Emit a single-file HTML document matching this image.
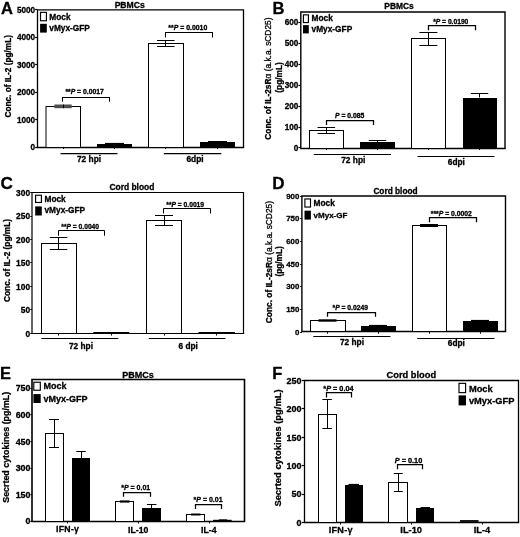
<!DOCTYPE html>
<html><head><meta charset="utf-8"><title>Figure</title>
<style>
html,body{margin:0;padding:0;background:#fff;}
svg{display:block;font-family:"Liberation Sans",sans-serif;fill:#000;}
text{stroke:#000;stroke-width:0.3px;stroke-linejoin:round;}
</style></head><body>
<svg width="520" height="537" viewBox="0 0 520 537">
<rect x="0" y="0" width="520" height="537" fill="#fff" stroke="none"/>
<text x="0.9" y="13.6" font-size="16.5" text-anchor="start" font-weight="bold" >A</text>
<text x="129.7" y="8.3" font-size="8.6" text-anchor="middle" font-weight="bold" >PBMCs</text>
<polyline points="37.5,147.5 37.5,9.9 243.5,9.9 243.5,147.5" fill="none" stroke="#000" stroke-width="1.3"/>
<line x1="36.85" y1="147.5" x2="244.15" y2="147.5" stroke="#000" stroke-width="1.3"/>
<line x1="35.1" y1="9.5" x2="37.5" y2="9.5" stroke="#000" stroke-width="1.2"/>
<text x="35.1" y="12.94" font-size="8.2" text-anchor="end" font-weight="bold" >5000</text>
<line x1="35.1" y1="37.5" x2="37.5" y2="37.5" stroke="#000" stroke-width="1.2"/>
<text x="35.1" y="40.38" font-size="8.2" text-anchor="end" font-weight="bold" >4000</text>
<line x1="35.1" y1="64.5" x2="37.5" y2="64.5" stroke="#000" stroke-width="1.2"/>
<text x="35.1" y="67.82" font-size="8.2" text-anchor="end" font-weight="bold" >3000</text>
<line x1="35.1" y1="92.5" x2="37.5" y2="92.5" stroke="#000" stroke-width="1.2"/>
<text x="35.1" y="95.26" font-size="8.2" text-anchor="end" font-weight="bold" >2000</text>
<line x1="35.1" y1="119.5" x2="37.5" y2="119.5" stroke="#000" stroke-width="1.2"/>
<text x="35.1" y="122.7" font-size="8.2" text-anchor="end" font-weight="bold" >1000</text>
<line x1="35.1" y1="147.5" x2="37.5" y2="147.5" stroke="#000" stroke-width="1.2"/>
<text x="35.1" y="150.14" font-size="8.2" text-anchor="end" font-weight="bold" >0</text>
<text transform="translate(10.6,76.3) rotate(-90)" font-size="8.25" text-anchor="middle" font-weight="bold">Conc. of IL-2 (pg/mL)</text>
<rect x="40.5" y="12.35" width="5.9" height="8.4" fill="#fff" stroke="#000" stroke-width="1.15"/>
<rect x="40.1" y="23.8" width="6.7" height="8.8" fill="#000" stroke="none"/>
<text x="49.3" y="19.7" font-size="8.3" text-anchor="start" font-weight="bold" >Mock</text>
<text x="49.3" y="30.9" font-size="8.3" text-anchor="start" font-weight="bold" >vMyx-GFP</text>
<rect x="46.0" y="106.5" width="34.5" height="41.0" fill="#fff" stroke="#000" stroke-width="1.0"/>
<rect x="54.4" y="104.5" width="17.3" height="3.7" fill="#4d4d4d" stroke="none"/>
<line x1="63.5" y1="104.5" x2="63.5" y2="108.2" stroke="#000" stroke-width="1.0"/>
<rect x="97.5" y="144.5" width="34.0" height="3.0" fill="#000" stroke="#000" stroke-width="1.0"/>
<line x1="105" y1="143.5" x2="124" y2="143.5" stroke="#000" stroke-width="1.2"/>
<rect x="148.5" y="43.5" width="35.0" height="104.0" fill="#fff" stroke="#000" stroke-width="1.0"/>
<line x1="165.5" y1="40.8" x2="165.5" y2="46.8" stroke="#000" stroke-width="1.0"/>
<line x1="157.05" y1="40.5" x2="174.55" y2="40.5" stroke="#000" stroke-width="1.0"/>
<line x1="157.05" y1="46.5" x2="174.55" y2="46.5" stroke="#000" stroke-width="1.0"/>
<rect x="200.5" y="142.5" width="34.0" height="5.0" fill="#000" stroke="#000" stroke-width="1.0"/>
<line x1="208" y1="141.5" x2="227" y2="141.5" stroke="#000" stroke-width="1.0"/>
<polyline points="62.5,101.7 62.5,97.5 109.5,97.5 109.5,101.7" fill="none" stroke="#000" stroke-width="1.05"/>
<text x="65.4" y="94.2" font-size="6.8" text-anchor="start" font-weight="bold">**<tspan font-style="italic">P</tspan> = 0.0017</text>
<polyline points="165.5,37.5 165.5,32.5 212.5,32.5 212.5,37.5" fill="none" stroke="#000" stroke-width="1.05"/>
<text x="168.3" y="30.2" font-size="6.9" text-anchor="start" font-weight="bold">**<tspan font-style="italic">P</tspan> = 0.0010</text>
<line x1="63.5" y1="147" x2="63.5" y2="149" stroke="#000" stroke-width="0.9"/>
<line x1="114.5" y1="147" x2="114.5" y2="149" stroke="#000" stroke-width="0.9"/>
<line x1="165.5" y1="147" x2="165.5" y2="149" stroke="#000" stroke-width="0.9"/>
<line x1="217.5" y1="147" x2="217.5" y2="149" stroke="#000" stroke-width="0.9"/>
<line x1="60.5" y1="153.5" x2="117.5" y2="153.5" stroke="#000" stroke-width="1.25"/>
<line x1="163.8" y1="153.5" x2="221.3" y2="153.5" stroke="#000" stroke-width="1.25"/>
<text x="89" y="161.9" font-size="8.4" text-anchor="middle" font-weight="bold" >72 hpi</text>
<text x="195" y="161.8" font-size="8.4" text-anchor="middle" font-weight="bold" >6dpi</text>
<text x="272.6" y="14.1" font-size="16.5" text-anchor="start" font-weight="bold" >B</text>
<text x="399" y="9.4" font-size="8.4" text-anchor="middle" font-weight="bold" >PBMCs</text>
<polyline points="300.8,148.5 300.8,12.0 505.0,12.0 505.0,148.5" fill="none" stroke="#000" stroke-width="1.4"/>
<line x1="300.15000000000003" y1="148.5" x2="505.65" y2="148.5" stroke="#000" stroke-width="1.4"/>
<line x1="298.40000000000003" y1="22.5" x2="300.8" y2="22.5" stroke="#000" stroke-width="1.2"/>
<text x="298.3" y="25.49" font-size="8.2" text-anchor="end" font-weight="bold" >600</text>
<line x1="298.40000000000003" y1="43.5" x2="300.8" y2="43.5" stroke="#000" stroke-width="1.2"/>
<text x="298.3" y="46.39" font-size="8.2" text-anchor="end" font-weight="bold" >500</text>
<line x1="298.40000000000003" y1="64.5" x2="300.8" y2="64.5" stroke="#000" stroke-width="1.2"/>
<text x="298.3" y="67.29" font-size="8.2" text-anchor="end" font-weight="bold" >400</text>
<line x1="298.40000000000003" y1="85.5" x2="300.8" y2="85.5" stroke="#000" stroke-width="1.2"/>
<text x="298.3" y="88.19" font-size="8.2" text-anchor="end" font-weight="bold" >300</text>
<line x1="298.40000000000003" y1="106.5" x2="300.8" y2="106.5" stroke="#000" stroke-width="1.2"/>
<text x="298.3" y="109.09" font-size="8.2" text-anchor="end" font-weight="bold" >200</text>
<line x1="298.40000000000003" y1="127.5" x2="300.8" y2="127.5" stroke="#000" stroke-width="1.2"/>
<text x="298.3" y="129.99" font-size="8.2" text-anchor="end" font-weight="bold" >100</text>
<line x1="298.40000000000003" y1="147.5" x2="300.8" y2="147.5" stroke="#000" stroke-width="1.2"/>
<text x="298.3" y="150.89" font-size="8.2" text-anchor="end" font-weight="bold" >0</text>
<text transform="translate(271.35,78.6) rotate(-90)" font-size="8.35" text-anchor="middle" font-weight="bold">Conc. of IL-2sR<tspan font-weight="normal" stroke-width="0.3">α (a.k.a. sCD25)</tspan></text>
<text transform="translate(281.7,77.5) rotate(-90)" font-size="8.3" text-anchor="middle" font-weight="bold">(pg/mL)</text>
<rect x="303.4" y="14.85" width="5.0" height="7.7" fill="#fff" stroke="#000" stroke-width="1.15"/>
<rect x="303.0" y="25.1" width="5.8" height="8.3" fill="#000" stroke="none"/>
<text x="311.6" y="21.3" font-size="8.3" text-anchor="start" font-weight="bold" >Mock</text>
<text x="311.6" y="32.3" font-size="8.3" text-anchor="start" font-weight="bold" >vMyx-GFP</text>
<rect x="309.5" y="130.5" width="34.0" height="18.0" fill="#fff" stroke="#000" stroke-width="1.0"/>
<line x1="326.5" y1="127" x2="326.5" y2="133.3" stroke="#000" stroke-width="1.0"/>
<line x1="317.55" y1="127.5" x2="335.05" y2="127.5" stroke="#000" stroke-width="1.0"/>
<line x1="317.55" y1="133.5" x2="335.05" y2="133.5" stroke="#000" stroke-width="1.0"/>
<rect x="360.5" y="142.5" width="34.0" height="6.0" fill="#000" stroke="#000" stroke-width="1.0"/>
<line x1="377.5" y1="140.3" x2="377.5" y2="142" stroke="#000" stroke-width="1.0"/>
<line x1="368.75" y1="140.5" x2="386.25" y2="140.5" stroke="#000" stroke-width="1.0"/>
<rect x="411.5" y="38.5" width="34.0" height="110.0" fill="#fff" stroke="#000" stroke-width="1.0"/>
<line x1="428.5" y1="32" x2="428.5" y2="45.8" stroke="#000" stroke-width="1.0"/>
<line x1="419.4" y1="32.5" x2="437.4" y2="32.5" stroke="#000" stroke-width="1.0"/>
<line x1="419.4" y1="45.5" x2="437.4" y2="45.5" stroke="#000" stroke-width="1.0"/>
<rect x="463.5" y="98.5" width="33.0" height="50.0" fill="#000" stroke="#000" stroke-width="1.0"/>
<line x1="479.5" y1="93" x2="479.5" y2="97.5" stroke="#000" stroke-width="1.0"/>
<line x1="470.75" y1="93.5" x2="488.25" y2="93.5" stroke="#000" stroke-width="1.0"/>
<polyline points="326.5,125.0 326.5,120.5 373.5,120.5 373.5,125.0" fill="none" stroke="#000" stroke-width="1.25"/>
<text x="335" y="118.4" font-size="6.8" text-anchor="start" font-weight="bold"><tspan font-style="italic">P</tspan> = 0.085</text>
<polyline points="428.5,30.3 428.5,25.5 475.5,25.5 475.5,30.3" fill="none" stroke="#000" stroke-width="1.25"/>
<text x="433.2" y="23.9" font-size="6.7" text-anchor="start" font-weight="bold">*<tspan font-style="italic">P</tspan> = 0.0190</text>
<line x1="326.5" y1="148" x2="326.5" y2="150" stroke="#000" stroke-width="0.9"/>
<line x1="377.5" y1="148" x2="377.5" y2="150" stroke="#000" stroke-width="0.9"/>
<line x1="428.5" y1="148" x2="428.5" y2="150" stroke="#000" stroke-width="0.9"/>
<line x1="479.5" y1="148" x2="479.5" y2="150" stroke="#000" stroke-width="0.9"/>
<line x1="313.8" y1="154.5" x2="391" y2="154.5" stroke="#000" stroke-width="1.0"/>
<line x1="417.5" y1="156.5" x2="494.5" y2="156.5" stroke="#000" stroke-width="1.0"/>
<text x="353.3" y="163.3" font-size="8.4" text-anchor="middle" font-weight="bold" >72 hpi</text>
<text x="456.3" y="165.2" font-size="8.3" text-anchor="middle" font-weight="bold" >6dpi</text>
<text x="0.6" y="188.9" font-size="17.2" text-anchor="start" font-weight="bold" >C</text>
<text x="131.9" y="190.4" font-size="8.45" text-anchor="middle" font-weight="bold" >Cord blood</text>
<polyline points="32.0,333.5 32.0,192.5 243.5,192.5 243.5,333.5" fill="none" stroke="#000" stroke-width="1.2"/>
<line x1="31.35" y1="333.5" x2="244.15" y2="333.5" stroke="#000" stroke-width="1.2"/>
<line x1="30.3" y1="192.5" x2="32.0" y2="192.5" stroke="#000" stroke-width="1.2"/>
<text x="30.1" y="195.81" font-size="8.4" text-anchor="end" font-weight="bold" >300</text>
<line x1="30.3" y1="216.5" x2="32.0" y2="216.5" stroke="#000" stroke-width="1.2"/>
<text x="30.1" y="219.27" font-size="8.4" text-anchor="end" font-weight="bold" >250</text>
<line x1="30.3" y1="239.5" x2="32.0" y2="239.5" stroke="#000" stroke-width="1.2"/>
<text x="30.1" y="242.73" font-size="8.4" text-anchor="end" font-weight="bold" >200</text>
<line x1="30.3" y1="262.5" x2="32.0" y2="262.5" stroke="#000" stroke-width="1.2"/>
<text x="30.1" y="266.19" font-size="8.4" text-anchor="end" font-weight="bold" >150</text>
<line x1="30.3" y1="286.5" x2="32.0" y2="286.5" stroke="#000" stroke-width="1.2"/>
<text x="30.1" y="289.65" font-size="8.4" text-anchor="end" font-weight="bold" >100</text>
<line x1="30.3" y1="309.5" x2="32.0" y2="309.5" stroke="#000" stroke-width="1.2"/>
<text x="30.1" y="313.11" font-size="8.4" text-anchor="end" font-weight="bold" >50</text>
<line x1="30.3" y1="333.5" x2="32.0" y2="333.5" stroke="#000" stroke-width="1.2"/>
<text x="30.1" y="336.57" font-size="8.4" text-anchor="end" font-weight="bold" >0</text>
<text transform="translate(9.6,260.5) rotate(-90)" font-size="8.3" text-anchor="middle" font-weight="bold">Conc. of IL-2 (pg/mL)</text>
<rect x="35.6" y="195.25" width="5.8" height="7.2" fill="#fff" stroke="#000" stroke-width="1.15"/>
<rect x="35.2" y="206.4" width="6.6" height="9.1" fill="#000" stroke="none"/>
<text x="44.5" y="202" font-size="8.3" text-anchor="start" font-weight="bold" >Mock</text>
<text x="44.5" y="212.9" font-size="8.3" text-anchor="start" font-weight="bold" >vMyx-GFP</text>
<rect x="41.5" y="243.5" width="35.0" height="90.0" fill="#fff" stroke="#000" stroke-width="1.0"/>
<line x1="58.5" y1="237.5" x2="58.5" y2="249.2" stroke="#000" stroke-width="1.0"/>
<line x1="49.85" y1="237.5" x2="67.35" y2="237.5" stroke="#000" stroke-width="1.0"/>
<line x1="49.85" y1="249.5" x2="67.35" y2="249.5" stroke="#000" stroke-width="1.0"/>
<line x1="93.3" y1="332.5" x2="129.3" y2="332.5" stroke="#000" stroke-width="1.0"/>
<rect x="146.5" y="220.5" width="35.0" height="113.0" fill="#fff" stroke="#000" stroke-width="1.0"/>
<line x1="164.5" y1="215" x2="164.5" y2="225" stroke="#000" stroke-width="1.0"/>
<line x1="155.0" y1="215.5" x2="173.0" y2="215.5" stroke="#000" stroke-width="1.0"/>
<line x1="155.0" y1="225.5" x2="173.0" y2="225.5" stroke="#000" stroke-width="1.0"/>
<line x1="198.5" y1="332.5" x2="234.9" y2="332.5" stroke="#000" stroke-width="1.0"/>
<polyline points="58.5,235.7 58.5,230.5 104.5,230.5 104.5,235.7" fill="none" stroke="#000" stroke-width="1.0"/>
<text x="61.3" y="228.5" font-size="6.7" text-anchor="start" font-weight="bold">**<tspan font-style="italic">P</tspan> = 0.0040</text>
<polyline points="163.5,213.5 163.5,208.5 210.5,208.5 210.5,213.5" fill="none" stroke="#000" stroke-width="1.0"/>
<text x="166.3" y="206.8" font-size="6.7" text-anchor="start" font-weight="bold">**<tspan font-style="italic">P</tspan> = 0.0019</text>
<line x1="58.5" y1="333.4" x2="58.5" y2="335.59999999999997" stroke="#000" stroke-width="0.9"/>
<line x1="111.5" y1="333.4" x2="111.5" y2="335.59999999999997" stroke="#000" stroke-width="0.9"/>
<line x1="164.5" y1="333.4" x2="164.5" y2="335.59999999999997" stroke="#000" stroke-width="0.9"/>
<line x1="216.5" y1="333.4" x2="216.5" y2="335.59999999999997" stroke="#000" stroke-width="0.9"/>
<line x1="41.3" y1="338.5" x2="118.3" y2="338.5" stroke="#000" stroke-width="1.0"/>
<line x1="148.8" y1="338.5" x2="225.4" y2="338.5" stroke="#000" stroke-width="1.0"/>
<text x="81" y="349.2" font-size="8.3" text-anchor="middle" font-weight="bold" >72 hpi</text>
<text x="188.2" y="349.2" font-size="8.3" text-anchor="middle" font-weight="bold" >6 dpi</text>
<text x="272.2" y="188.8" font-size="17" text-anchor="start" font-weight="bold" >D</text>
<text x="395.5" y="193.5" font-size="8.3" text-anchor="middle" font-weight="bold" >Cord blood</text>
<polyline points="301.9,331.5 301.9,196.0 505.5,196.0 505.5,331.5" fill="none" stroke="#000" stroke-width="1.4"/>
<line x1="301.25" y1="331.5" x2="506.15" y2="331.5" stroke="#000" stroke-width="1.4"/>
<line x1="300.2" y1="196.5" x2="301.9" y2="196.5" stroke="#000" stroke-width="1.2"/>
<text x="299.4" y="198.73" font-size="7.9" text-anchor="end" font-weight="bold" >900</text>
<line x1="300.2" y1="218.5" x2="301.9" y2="218.5" stroke="#000" stroke-width="1.2"/>
<text x="299.4" y="221.4" font-size="7.9" text-anchor="end" font-weight="bold" >750</text>
<line x1="300.2" y1="241.5" x2="301.9" y2="241.5" stroke="#000" stroke-width="1.2"/>
<text x="299.4" y="244.07" font-size="7.9" text-anchor="end" font-weight="bold" >600</text>
<line x1="300.2" y1="264.5" x2="301.9" y2="264.5" stroke="#000" stroke-width="1.2"/>
<text x="299.4" y="266.74" font-size="7.9" text-anchor="end" font-weight="bold" >450</text>
<line x1="300.2" y1="286.5" x2="301.9" y2="286.5" stroke="#000" stroke-width="1.2"/>
<text x="299.4" y="289.41" font-size="7.9" text-anchor="end" font-weight="bold" >300</text>
<line x1="300.2" y1="309.5" x2="301.9" y2="309.5" stroke="#000" stroke-width="1.2"/>
<text x="299.4" y="312.08" font-size="7.9" text-anchor="end" font-weight="bold" >150</text>
<line x1="300.2" y1="332.5" x2="301.9" y2="332.5" stroke="#000" stroke-width="1.2"/>
<text x="299.4" y="334.75" font-size="7.9" text-anchor="end" font-weight="bold" >0</text>
<text transform="translate(271.8,262.1) rotate(-90)" font-size="8.35" text-anchor="middle" font-weight="bold">Conc. of IL-2sR<tspan font-weight="normal" stroke-width="0.3">α (a.k.a. sCD25)</tspan></text>
<text transform="translate(281.7,261.4) rotate(-90)" font-size="8.2" text-anchor="middle" font-weight="bold">(pg/mL)</text>
<rect x="304.9" y="198.95" width="5.6" height="8.1" fill="#fff" stroke="#000" stroke-width="1.15"/>
<rect x="304.5" y="210.7" width="6.4" height="8.9" fill="#000" stroke="none"/>
<text x="313.6" y="205.7" font-size="8.3" text-anchor="start" font-weight="bold" >Mock</text>
<text x="313.6" y="217.9" font-size="8.0" text-anchor="start" font-weight="bold" >vMyx-GF</text>
<rect x="310.5" y="320.5" width="35.0" height="11.0" fill="#fff" stroke="#000" stroke-width="1.0"/>
<line x1="318.5" y1="320.5" x2="336.5" y2="320.5" stroke="#000" stroke-width="2.4"/>
<rect x="361.5" y="326.5" width="34.0" height="5.0" fill="#000" stroke="#000" stroke-width="1.0"/>
<line x1="369" y1="325.5" x2="387" y2="325.5" stroke="#000" stroke-width="1.2"/>
<rect x="412.5" y="225.5" width="34.0" height="106.0" fill="#fff" stroke="#000" stroke-width="1.0"/>
<line x1="420" y1="225.5" x2="438" y2="225.5" stroke="#000" stroke-width="3.0"/>
<rect x="463.5" y="321.5" width="34.0" height="10.0" fill="#000" stroke="#000" stroke-width="1.0"/>
<line x1="471" y1="320.5" x2="489" y2="320.5" stroke="#000" stroke-width="1.2"/>
<polyline points="327.5,316.8 327.5,312.5 375.5,312.5 375.5,316.8" fill="none" stroke="#000" stroke-width="1.25"/>
<text x="332.5" y="310.3" font-size="6.75" text-anchor="start" font-weight="bold">*<tspan font-style="italic">P</tspan> = 0.0249</text>
<polyline points="429.5,222.3 429.5,217.5 476.5,217.5 476.5,222.3" fill="none" stroke="#000" stroke-width="1.25"/>
<text x="430.8" y="215.8" font-size="6.8" text-anchor="start" font-weight="bold">***<tspan font-style="italic">P</tspan> = 0.0002</text>
<line x1="327.5" y1="331.8" x2="327.5" y2="333.8" stroke="#000" stroke-width="0.9"/>
<line x1="378.5" y1="331.8" x2="378.5" y2="333.8" stroke="#000" stroke-width="0.9"/>
<line x1="429.5" y1="331.8" x2="429.5" y2="333.8" stroke="#000" stroke-width="0.9"/>
<line x1="480.5" y1="331.8" x2="480.5" y2="333.8" stroke="#000" stroke-width="0.9"/>
<line x1="313.3" y1="336.5" x2="390.4" y2="336.5" stroke="#000" stroke-width="1.0"/>
<line x1="417.2" y1="338.5" x2="494.5" y2="338.5" stroke="#000" stroke-width="1.0"/>
<text x="352" y="345.2" font-size="8.3" text-anchor="middle" font-weight="bold" >72 hpi</text>
<text x="456.3" y="345.7" font-size="8.3" text-anchor="middle" font-weight="bold" >6dpi</text>
<text x="0.0" y="378.9" font-size="16.5" text-anchor="start" font-weight="bold" >E</text>
<text x="138.1" y="377.5" font-size="9.0" text-anchor="middle" font-weight="bold" >PBMCs</text>
<polyline points="32.0,521.5 32.0,379.5 244.5,379.5 244.5,521.5" fill="none" stroke="#000" stroke-width="1.6"/>
<line x1="31.35" y1="521.5" x2="245.15" y2="521.5" stroke="#000" stroke-width="1.6"/>
<line x1="30.5" y1="388.5" x2="32.0" y2="388.5" stroke="#000" stroke-width="1.2"/>
<text x="30.5" y="391.49" font-size="8.9" text-anchor="end" font-weight="bold" >750</text>
<line x1="30.5" y1="414.5" x2="32.0" y2="414.5" stroke="#000" stroke-width="1.2"/>
<text x="30.5" y="418.09" font-size="8.9" text-anchor="end" font-weight="bold" >600</text>
<line x1="30.5" y1="441.5" x2="32.0" y2="441.5" stroke="#000" stroke-width="1.2"/>
<text x="30.5" y="444.69" font-size="8.9" text-anchor="end" font-weight="bold" >450</text>
<line x1="30.5" y1="468.5" x2="32.0" y2="468.5" stroke="#000" stroke-width="1.2"/>
<text x="30.5" y="471.29" font-size="8.9" text-anchor="end" font-weight="bold" >300</text>
<line x1="30.5" y1="494.5" x2="32.0" y2="494.5" stroke="#000" stroke-width="1.2"/>
<text x="30.5" y="497.89" font-size="8.9" text-anchor="end" font-weight="bold" >150</text>
<line x1="30.5" y1="521.5" x2="32.0" y2="521.5" stroke="#000" stroke-width="1.2"/>
<text x="30.5" y="524.49" font-size="8.9" text-anchor="end" font-weight="bold" >0</text>
<text transform="translate(8.9,447.3) rotate(-90)" font-size="8.9" text-anchor="middle" font-weight="bold">Secrted cytokines (pg/mL)</text>
<rect x="33.8" y="382.25" width="6.5" height="8.0" fill="#fff" stroke="#000" stroke-width="1.15"/>
<rect x="33.4" y="394.1" width="7.3" height="8.9" fill="#000" stroke="none"/>
<text x="43.6" y="389.1" font-size="9.0" text-anchor="start" font-weight="bold" >Mock</text>
<text x="43.6" y="401.6" font-size="9.0" text-anchor="start" font-weight="bold" >vMyx-GFP</text>
<rect x="45.5" y="433.5" width="18.0" height="88.0" fill="#fff" stroke="#000" stroke-width="1.0"/>
<line x1="54.5" y1="419.5" x2="54.5" y2="447.5" stroke="#000" stroke-width="1.0"/>
<line x1="49.0" y1="419.5" x2="59.0" y2="419.5" stroke="#000" stroke-width="1.0"/>
<line x1="49.0" y1="447.5" x2="59.0" y2="447.5" stroke="#000" stroke-width="1.0"/>
<rect x="72.5" y="458.5" width="17.0" height="63.0" fill="#000" stroke="#000" stroke-width="1.0"/>
<line x1="81.5" y1="451.8" x2="81.5" y2="458" stroke="#000" stroke-width="1.0"/>
<line x1="76.25" y1="451.5" x2="85.75" y2="451.5" stroke="#000" stroke-width="1.0"/>
<rect x="115.5" y="501.5" width="18.0" height="20.0" fill="#fff" stroke="#000" stroke-width="1.0"/>
<line x1="120" y1="501.5" x2="129.5" y2="501.5" stroke="#000" stroke-width="2.2"/>
<rect x="142.5" y="508.5" width="18.0" height="13.0" fill="#000" stroke="#000" stroke-width="1.0"/>
<line x1="151.5" y1="504.5" x2="151.5" y2="508" stroke="#000" stroke-width="1.0"/>
<line x1="146.95" y1="504.5" x2="156.45" y2="504.5" stroke="#000" stroke-width="1.0"/>
<rect x="186.5" y="514.5" width="18.0" height="7.0" fill="#fff" stroke="#000" stroke-width="1.0"/>
<line x1="191" y1="514.5" x2="200.5" y2="514.5" stroke="#000" stroke-width="2.0"/>
<line x1="213" y1="520.4" x2="231.7" y2="520.4" stroke="#000" stroke-width="1.2"/>
<line x1="218.8" y1="519.7" x2="227.2" y2="519.7" stroke="#000" stroke-width="0.8"/>
<polyline points="123.5,496.8 123.5,492.5 150.5,492.5 150.5,496.8" fill="none" stroke="#000" stroke-width="1.25"/>
<text x="121.2" y="489.5" font-size="7.0" text-anchor="start" font-weight="bold">*<tspan font-style="italic">P</tspan> = 0.01</text>
<polyline points="195.5,509.1 195.5,504.5 221.5,504.5 221.5,509.1" fill="none" stroke="#000" stroke-width="1.25"/>
<text x="193.6" y="501.9" font-size="7.0" text-anchor="start" font-weight="bold">*<tspan font-style="italic">P</tspan> = 0.01</text>
<line x1="67.5" y1="521.3" x2="67.5" y2="523.5" stroke="#000" stroke-width="0.9"/>
<line x1="138.5" y1="521.3" x2="138.5" y2="523.5" stroke="#000" stroke-width="0.9"/>
<line x1="209.5" y1="521.3" x2="209.5" y2="523.5" stroke="#000" stroke-width="0.9"/>
<text x="67.6" y="531.8" font-size="8.7" text-anchor="middle" font-weight="bold" letter-spacing="0.3">IFN-γ</text>
<text x="138.2" y="532.5" font-size="8.7" text-anchor="middle" font-weight="bold" >IL-10</text>
<text x="208.8" y="532.5" font-size="8.7" text-anchor="middle" font-weight="bold" >IL-4</text>
<text x="272.3" y="378.7" font-size="16.5" text-anchor="start" font-weight="bold" >F</text>
<text x="411.3" y="378.2" font-size="9.3" text-anchor="middle" font-weight="bold" >Cord blood</text>
<polyline points="304.5,522.5 304.5,380.5 518.5,380.5 518.5,522.5" fill="none" stroke="#000" stroke-width="1.3"/>
<line x1="303.85" y1="522.5" x2="519.15" y2="522.5" stroke="#000" stroke-width="1.3"/>
<line x1="301.8" y1="380.5" x2="304.5" y2="380.5" stroke="#000" stroke-width="1.2"/>
<text x="301.6" y="383.72" font-size="9.0" text-anchor="end" font-weight="bold" >250</text>
<line x1="301.8" y1="408.5" x2="304.5" y2="408.5" stroke="#000" stroke-width="1.2"/>
<text x="301.6" y="412.12" font-size="9.0" text-anchor="end" font-weight="bold" >200</text>
<line x1="301.8" y1="437.5" x2="304.5" y2="437.5" stroke="#000" stroke-width="1.2"/>
<text x="301.6" y="440.52" font-size="9.0" text-anchor="end" font-weight="bold" >150</text>
<line x1="301.8" y1="465.5" x2="304.5" y2="465.5" stroke="#000" stroke-width="1.2"/>
<text x="301.6" y="468.92" font-size="9.0" text-anchor="end" font-weight="bold" >100</text>
<line x1="301.8" y1="494.5" x2="304.5" y2="494.5" stroke="#000" stroke-width="1.2"/>
<text x="301.6" y="497.32" font-size="9.0" text-anchor="end" font-weight="bold" >50</text>
<line x1="301.8" y1="522.5" x2="304.5" y2="522.5" stroke="#000" stroke-width="1.2"/>
<text x="301.6" y="525.72" font-size="9.0" text-anchor="end" font-weight="bold" >0</text>
<text transform="translate(281.0,448) rotate(-90)" font-size="9.4" text-anchor="middle" font-weight="bold">Secrted cytokines (pg/mL)</text>
<rect x="459.0" y="383.35" width="6.6" height="9.3" fill="#fff" stroke="#000" stroke-width="1.15"/>
<rect x="458.6" y="395.4" width="7.4" height="10.0" fill="#000" stroke="none"/>
<text x="468.9" y="391.6" font-size="9.3" text-anchor="start" font-weight="bold" >Mock</text>
<text x="468.9" y="403.5" font-size="9.3" text-anchor="start" font-weight="bold" >vMyx-GFP</text>
<rect x="318.5" y="414.5" width="18.0" height="108.0" fill="#fff" stroke="#000" stroke-width="1.0"/>
<line x1="327.5" y1="399.5" x2="327.5" y2="428.3" stroke="#000" stroke-width="1.0"/>
<line x1="322.35" y1="399.5" x2="331.85" y2="399.5" stroke="#000" stroke-width="1.0"/>
<line x1="322.35" y1="428.5" x2="331.85" y2="428.5" stroke="#000" stroke-width="1.0"/>
<rect x="345.5" y="485.5" width="17.0" height="37.0" fill="#000" stroke="#000" stroke-width="1.0"/>
<line x1="348.5" y1="484.5" x2="359" y2="484.5" stroke="#000" stroke-width="1.2"/>
<rect x="388.5" y="482.5" width="19.0" height="40.0" fill="#fff" stroke="#000" stroke-width="1.0"/>
<line x1="398.5" y1="473.7" x2="398.5" y2="491.7" stroke="#000" stroke-width="1.0"/>
<line x1="393.8" y1="473.5" x2="402.8" y2="473.5" stroke="#000" stroke-width="1.0"/>
<line x1="393.8" y1="491.5" x2="402.8" y2="491.5" stroke="#000" stroke-width="1.0"/>
<rect x="416.5" y="508.5" width="17.0" height="14.0" fill="#000" stroke="#000" stroke-width="1.0"/>
<line x1="420.5" y1="507.5" x2="430" y2="507.5" stroke="#000" stroke-width="1.0"/>
<line x1="460" y1="521.0" x2="478.6" y2="521.0" stroke="#000" stroke-width="1.8"/>
<polyline points="326.5,397.5 326.5,392.5 351.5,392.5 351.5,397.5" fill="none" stroke="#000" stroke-width="1.25"/>
<text x="323.3" y="390.6" font-size="7.3" text-anchor="start" font-weight="bold">*<tspan font-style="italic">P</tspan> = 0.04</text>
<polyline points="397.5,469.3 397.5,464.5 422.5,464.5 422.5,469.3" fill="none" stroke="#000" stroke-width="1.25"/>
<text x="394.8" y="463.0" font-size="7.3" text-anchor="start" font-weight="bold"><tspan font-style="italic">P</tspan> = 0.10</text>
<line x1="340.5" y1="522.4" x2="340.5" y2="524.6" stroke="#000" stroke-width="0.9"/>
<line x1="411.5" y1="522.4" x2="411.5" y2="524.6" stroke="#000" stroke-width="0.9"/>
<line x1="482.5" y1="522.4" x2="482.5" y2="524.6" stroke="#000" stroke-width="0.9"/>
<text x="340.8" y="532.6" font-size="9.1" text-anchor="middle" font-weight="bold" letter-spacing="0.3">IFN-γ</text>
<text x="411.2" y="532.9" font-size="9.3" text-anchor="middle" font-weight="bold" >IL-10</text>
<text x="482" y="532.9" font-size="9.3" text-anchor="middle" font-weight="bold" >IL-4</text>
</svg>
</body></html>
